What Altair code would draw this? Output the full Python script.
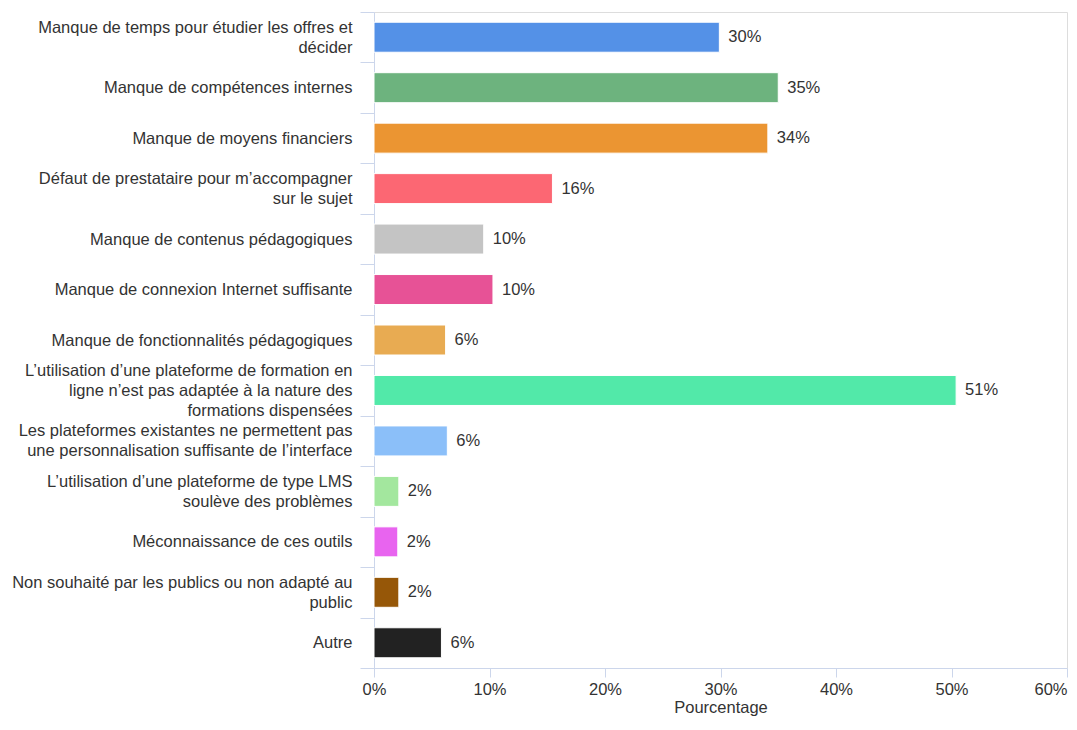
import altair as alt
import pandas as pd

categories = [
    "Manque de temps pour étudier les offres et|décider",
    "Manque de compétences internes",
    "Manque de moyens financiers",
    "Défaut de prestataire pour m’accompagner|sur le sujet",
    "Manque de contenus pédagogiques",
    "Manque de connexion Internet suffisante",
    "Manque de fonctionnalités pédagogiques",
    "L’utilisation d’une plateforme de formation en|ligne n’est pas adaptée à la nature des|formations dispensées",
    "Les plateformes existantes ne permettent pas|une personnalisation suffisante de l’interface",
    "L’utilisation d’une plateforme de type LMS|soulève des problèmes",
    "Méconnaissance de ces outils",
    "Non souhaité par les publics ou non adapté au|public",
    "Autre",
]
values = [29.9, 35.0, 34.1, 15.45, 9.5, 10.3, 6.2, 50.4, 6.35, 2.15, 2.06, 2.15, 5.84]
labels = ["30%", "35%", "34%", "16%", "10%", "10%", "6%", "51%", "6%", "2%", "2%", "2%", "6%"]
colors = ["#5491E7", "#6DB37E", "#EB9532", "#FC6773", "#C4C4C4", "#E75296", "#E8AB52",
          "#52E9A9", "#8BBFF9", "#A3E79E", "#E864EF", "#965708", "#222222"]

df = pd.DataFrame({"cat": categories, "val": values, "lab": labels})

axis_col = "#ccd6eb"
font = "Liberation Sans"
fs = 16.5
lh = 20

base = alt.Chart(df).encode(
    y=alt.Y("cat:N", sort=categories,
            scale=alt.Scale(paddingInner=0, paddingOuter=0),
            axis=alt.Axis(title=None, labelExpr="split(datum.label, '|')",
                          tickBand="extent", tickSize=14, labelPadding=8,
                          labelOffset={"condition": [
                              {"test": "length(split(datum.value, '|')) == 3", "value": -lh},
                              {"test": "length(split(datum.value, '|')) == 2", "value": -lh / 2},
                          ], "value": 0},
                          labelLimit=420, labelFontSize=fs, labelColor="#333333",
                          labelFont=font, labelLineHeight=lh,
                          domainColor=axis_col, tickColor=axis_col, grid=False)),
)

bars = base.mark_bar(size=30, stroke="white", strokeWidth=1).encode(
    x=alt.X("val:Q", scale=alt.Scale(domain=[0, 60], nice=False),
            axis=alt.Axis(title="Pourcentage", values=[0, 10, 20, 30, 40, 50, 60],
                          labelExpr="datum.value + '%'", tickSize=9,
                          labelAlign={"condition": {"test": "datum.value == 60", "value": "right"},
                                      "value": "center"},
                          labelPadding=4, labelFontSize=fs, labelColor="#333333",
                          labelFont=font, titleFont=font, titleFontSize=fs,
                          titleFontWeight="normal", titleColor="#333333",
                          titlePadding=2, domainColor=axis_col, tickColor=axis_col,
                          grid=False)),
    color=alt.Color("cat:N", scale=alt.Scale(domain=categories, range=colors), legend=None),
)

text = base.mark_text(align="left", baseline="middle", dx=9, fontSize=fs,
                      color="#333333", font=font).encode(
    x=alt.X("val:Q"),
    text=alt.Text("lab:N"),
)

chart = (bars + text).properties(
    width=693, height=656,
    autosize=alt.AutoSizeParams(type="none"),
    padding={"left": 366, "top": 4, "right": 2, "bottom": 50},
).configure_view(stroke=None).configure(background="white")

chart.save("out.html", embed_options={"renderer": "svg", "actions": False})
